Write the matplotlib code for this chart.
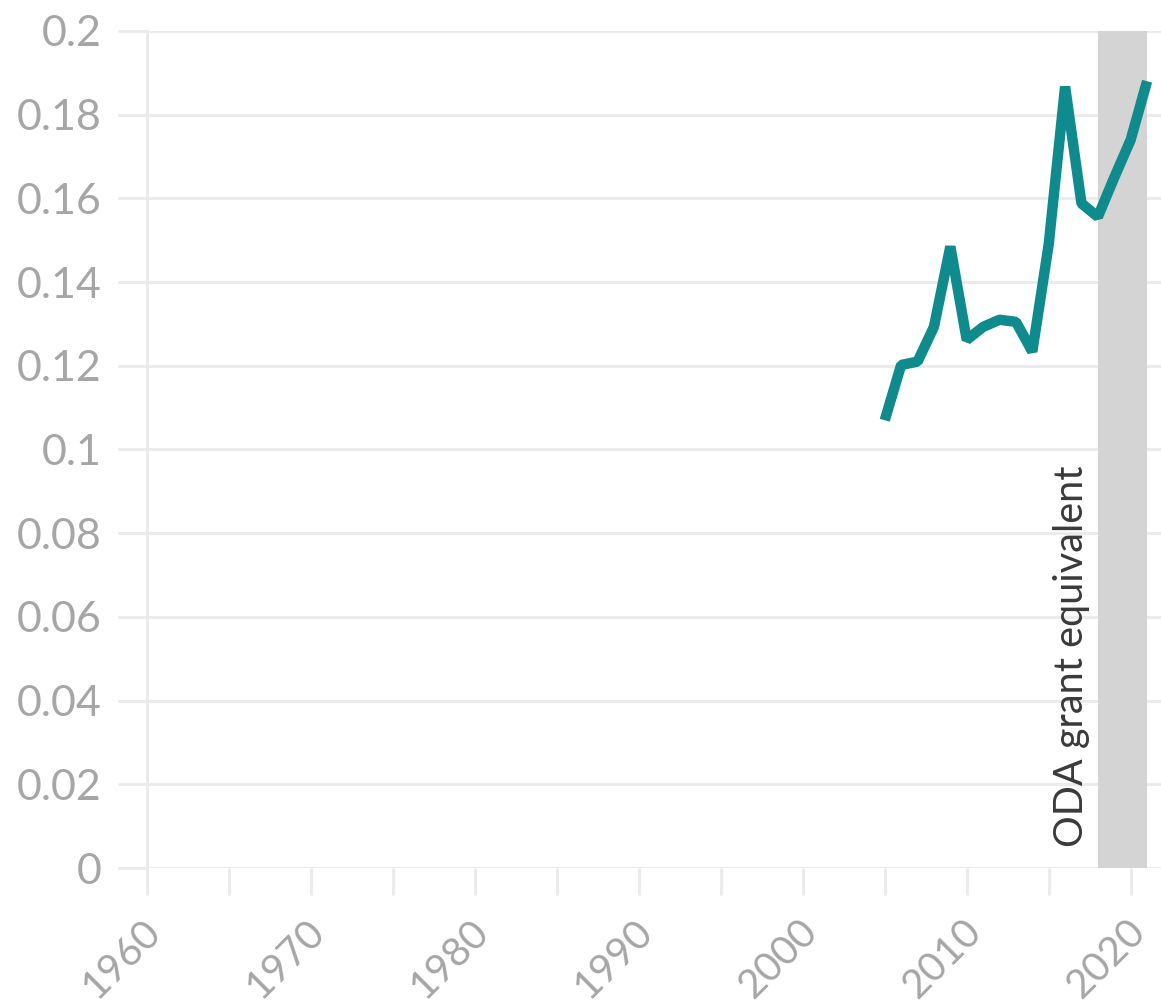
import matplotlib
matplotlib.use("Agg")
import matplotlib.pyplot as plt
import matplotlib.transforms as mtransforms

years = [2005, 2006, 2007, 2008, 2009, 2010, 2011, 2012, 2013, 2014,
         2015, 2016, 2017, 2018, 2019, 2020, 2021]
values = [0.107, 0.1202, 0.121, 0.1293, 0.1485, 0.1262, 0.1293, 0.131, 0.1305, 0.1234,
          0.149, 0.1867, 0.1588, 0.1556, 0.165, 0.174, 0.188]
band_start, band_end = 2018, 2021
band_label = "ODA grant equivalent"
xticks = [1960, 1970, 1980, 1990, 2000, 2010, 2020]
yticks = [0, 0.02, 0.04, 0.06, 0.08, 0.1, 0.12, 0.14, 0.16, 0.18, 0.2]
ytick_labels = ["0", "0.02", "0.04", "0.06", "0.08", "0.1", "0.12", "0.14", "0.16", "0.18", "0.2"]

plt.rcParams['font.family'] = ['Lato', 'DejaVu Sans']

W, H = 1161, 1005
fig = plt.figure(figsize=(W / 100, H / 100), dpi=100)
left, right, top, bottom = 147, 1161, 31, 868
ax = fig.add_axes([left / W, 1 - bottom / H, (right - left) / W, (bottom - top) / H])

ax.set_xlim(1960, 2021.85)
ax.set_ylim(0, 0.2)

grid_c = "#ebebeb"
ax.axvspan(band_start, band_end, color="#d4d4d4", zorder=1, lw=0)
ax.set_yticks(yticks)
ax.set_yticklabels(ytick_labels)
ax.set_xticks(xticks)
ax.set_xticks(list(range(1965, 2021, 10)), minor=True)
ax.yaxis.grid(True, color=grid_c, lw=2.2, zorder=0)
ax.set_axisbelow(True)

for s in ["top", "right", "bottom"]:
    ax.spines[s].set_visible(False)
ax.spines["left"].set_color(grid_c)
ax.spines["left"].set_linewidth(2.2)

ax.tick_params(axis="y", length=21, width=2.2, color=grid_c, labelcolor="#a6a6a6",
               labelsize=31, pad=12)
ax.tick_params(axis="x", which="both", length=19.5, width=2.2, color=grid_c)
ax.tick_params(axis="x", which="major", labelcolor="#a6a6a6", labelsize=29, pad=22)
offset = mtransforms.ScaledTranslation(0.08, 0, fig.dpi_scale_trans)
for lbl in ax.get_xticklabels():
    lbl.set_rotation(45)
    lbl.set_ha("right")
    lbl.set_va("center")
    lbl.set_rotation_mode("anchor")
    lbl.set_transform(lbl.get_transform() + offset)

ax.plot(years, values, color="#0f8b8d", lw=7.5, zorder=3, solid_joinstyle="bevel",
        solid_capstyle="butt")

ax.text(band_start - 0.5, 0.005, band_label, rotation=90, ha="right", va="bottom",
        fontsize=28.5, color="#3a3a3a", zorder=4)

fig.savefig("out.png", dpi=100)
